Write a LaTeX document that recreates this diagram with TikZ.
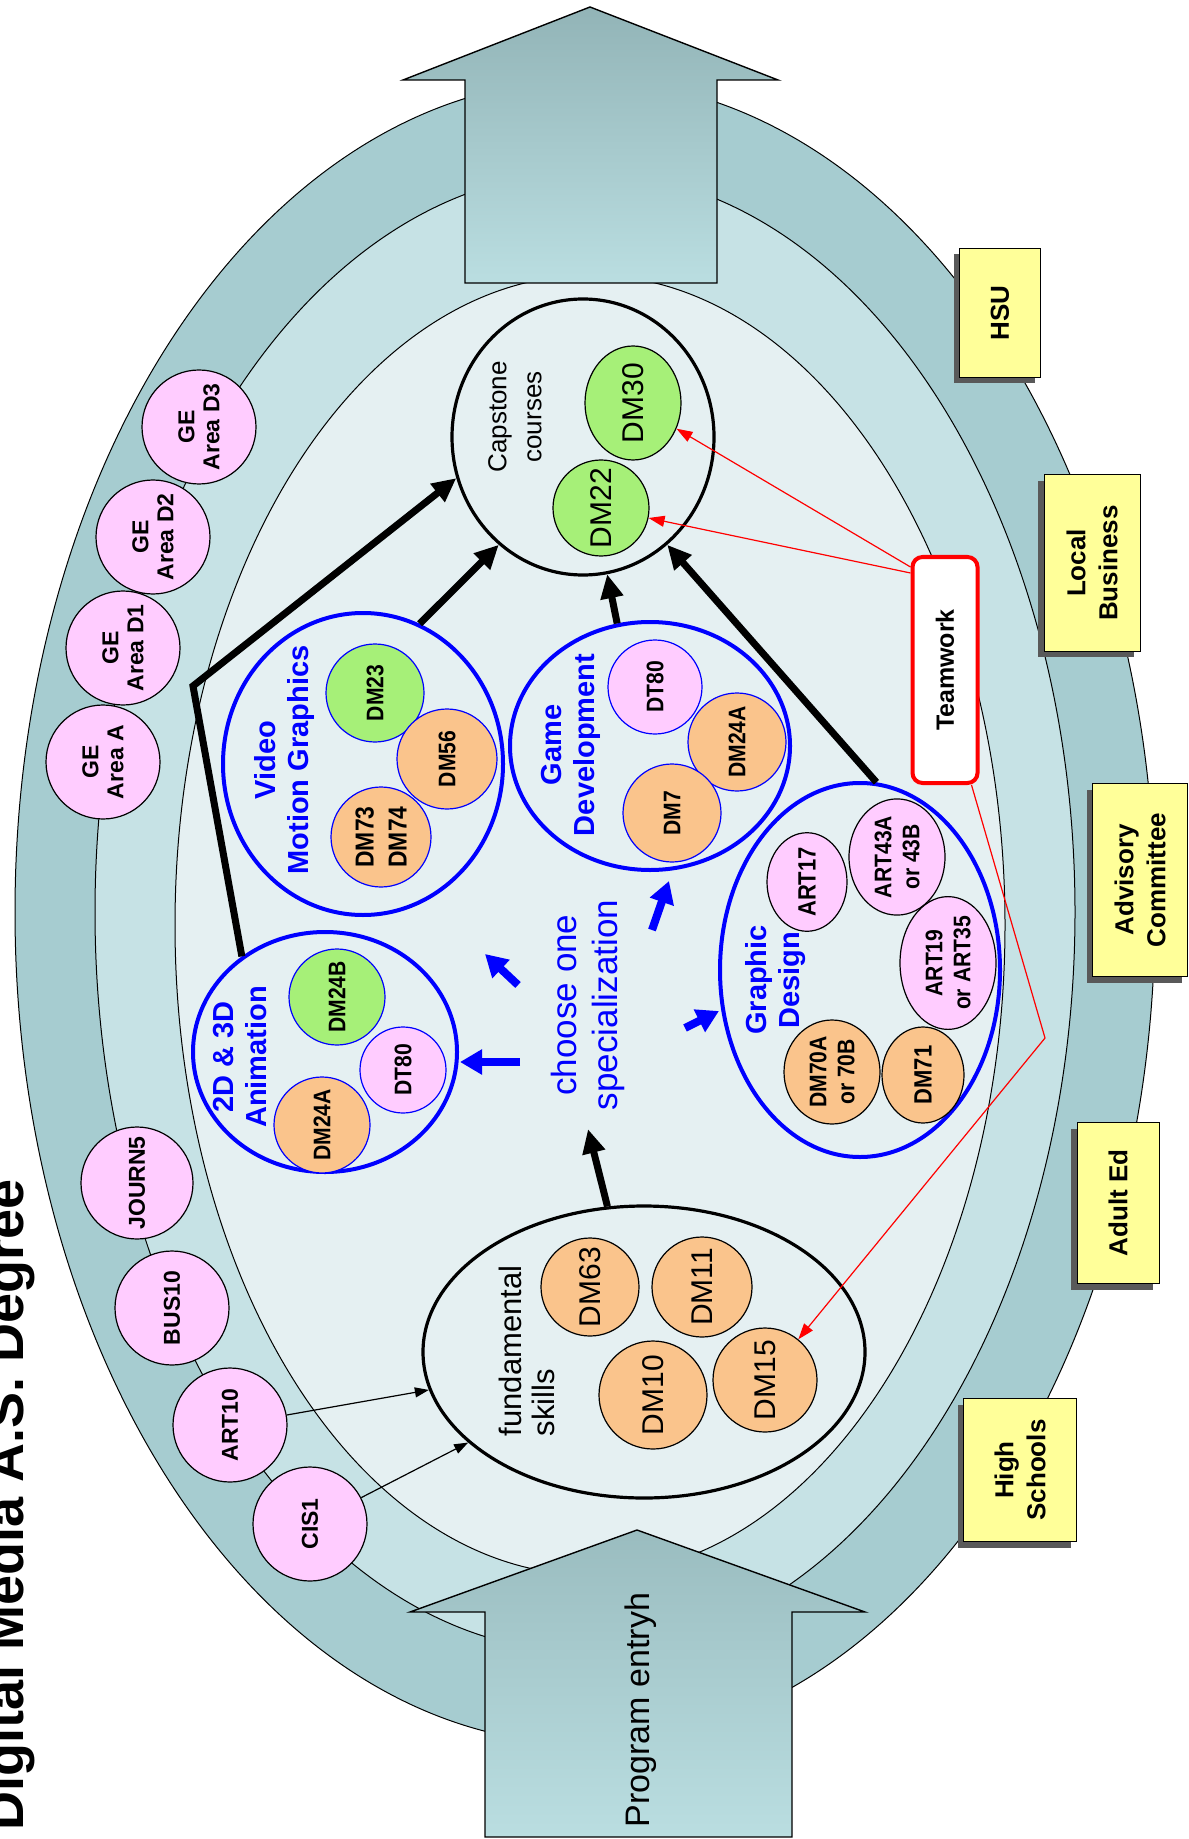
\documentclass[tikz,border=0pt]{standalone}
\usepackage{fontspec}
\setmainfont{Liberation Sans}
\newfontfamily\narrowfont[FakeStretch=0.88]{Liberation Sans}
\usetikzlibrary{shapes,arrows.meta,positioning,calc,shadows}

\definecolor{ringout}{RGB}{166,204,208}
\definecolor{ringmid}{RGB}{198,226,229}
\definecolor{ringin}{RGB}{229,240,242}
\definecolor{arrowtop}{RGB}{146,180,183}
\definecolor{arrowbot}{RGB}{186,222,225}
\definecolor{peach}{RGB}{250,196,140}
\definecolor{lime}{RGB}{166,240,120}
\definecolor{pinkc}{RGB}{255,204,255}
\definecolor{boxyellow}{RGB}{255,255,153}

\begin{document}
\begin{tikzpicture}[x=0.5pt, y=-0.5pt,
    ring/.style={draw=black, line width=0.5pt},
    grp/.style={ellipse, draw=blue, line width=2pt, inner sep=0pt},
    grplabel/.style={rotate=90, align=center, text=blue, font=\bfseries\fontsize{14.5}{16.5}\selectfont},
    course/.style={circle, draw=black, line width=0.6pt, inner sep=0pt, rotate=90, align=center},
    fundc/.style={course, fill=peach, font=\fontsize{15}{17}\selectfont},
    specc/.style={course, draw=blue, font=\narrowfont\bfseries\fontsize{12}{14}\selectfont},
    gdc/.style={course, ellipse, font=\narrowfont\bfseries\fontsize{12}{14}\selectfont},
    gec/.style={course, fill=pinkc, minimum size=57pt, font=\bfseries\fontsize{11.5}{12.5}\selectfont},
    sidebox/.style={rectangle, draw=black, line width=0.5pt, fill=boxyellow, rotate=90, align=center,
        font=\bfseries\fontsize{13}{16}\selectfont,
        drop shadow={shadow xshift=-3pt, shadow yshift=-3pt, fill=black!65, opacity=1}},
    teambox/.style={rectangle, rounded corners=5pt, draw=red, line width=2pt, fill=white, rotate=90,
        minimum width=113pt, minimum height=32.5pt, font=\bfseries\fontsize{12.5}{14}\selectfont},
    arrow/.style={-{Triangle[length=12pt,width=11pt]}, line width=3.5pt},
    bluearrow/.style={-{Triangle[length=11pt,width=12pt]}, line width=4pt, blue},
    thinarrow/.style={-{Triangle[length=7pt,width=5pt]}, line width=0.6pt},
    redarrow/.style={-{Triangle[length=8pt,width=5.5pt]}, line width=0.6pt, red}
]
\useasboundingbox (0,0) rectangle (1188,1839);

% Rings
\draw[ring, fill=ringout] (585,912) ellipse [x radius=570, y radius=832];
\draw[ring, fill=ringmid] (585,912) ellipse [x radius=490, y radius=740];
\draw[ring, fill=ringin] (590,925) ellipse [x radius=415, y radius=650];

% Big arrows
\shade[top color=arrowtop, bottom color=arrowbot, draw=black, line width=0.7pt]
  (590,7) -- (778,80) -- (717,80) -- (717,283) -- (465,283) -- (465,80) -- (403,80) -- cycle;
\shade[top color=arrowtop!80!arrowbot, bottom color=arrowbot, draw=black, line width=0.7pt]
  (637,1530) -- (865,1612) -- (792,1612) -- (792,1837) -- (485,1837) -- (485,1612) -- (410,1612) -- cycle;
\node[rotate=90, font=\fontsize{17}{20}\selectfont] (entry) at (641,1710) {Program entryh};

% Title
\node[rotate=90, anchor=base, font=\bfseries\fontsize{27}{30}\selectfont] (title) at (24,1505) {Digital Media A.S. Degree};

% Capstone
\node[ellipse, draw=black, line width=1.6pt, minimum width=131pt, minimum height=138pt] (cap) at (583,437) {};
\node[rotate=90, align=center, font=\fontsize{13}{17.5}\selectfont] (caplabel) at (515,417) {Capstone\\courses};
\node[course, ellipse, fill=lime, minimum width=57pt, minimum height=48pt, font=\fontsize{15}{17}\selectfont] (dm30) at (633,403) {DM30};
\node[course, fill=lime, minimum size=48pt, font=\fontsize{15}{17}\selectfont] (dm22) at (601,508) {DM22};

% Video Motion Graphics
\node[grp, minimum width=140pt, minimum height=151pt] (vmg) at (363,764) {};
\node[grplabel] (vmglabel) at (284,760) {Video\\Motion Graphics};
\node[specc, fill=lime, minimum size=49pt] (vdm23) at (375,693) {DM23};
\node[specc, fill=peach, minimum size=50pt] (vdm56) at (447,759) {DM56};
\node[specc, fill=peach, minimum size=50pt, font=\narrowfont\bfseries\fontsize{13}{16.5}\selectfont] (vdm73) at (381,837) {DM73\\DM74};

% Game Development
\node[grp, minimum width=140pt, minimum height=124pt] (game) at (650,746) {};
\node[grplabel] (gamelabel) at (571,745) {Game\\Development};
\node[specc, fill=pinkc, minimum size=47pt] (gdt80) at (655,687) {DT80};
\node[specc, fill=peach, minimum size=49pt] (gdm24a) at (737,742) {DM24A};
\node[specc, fill=peach, minimum size=49pt] (gdm7) at (672,813) {DM7};

% 2D & 3D Animation
\node[grp, minimum width=132pt, minimum height=120pt] (anim) at (325,1052) {};
\node[grplabel] (animlabel) at (240,1057) {2D \& 3D\\Animation};
\node[specc, fill=lime, minimum size=48pt] (adm24b) at (337,997) {DM24B};
\node[specc, fill=pinkc, minimum size=43pt] (adt80) at (403,1070) {DT80};
\node[specc, fill=peach, minimum size=48pt] (adm24a) at (322,1125) {DM24A};

% Graphic Design
\node[grp, minimum width=140pt, minimum height=187pt] (gd) at (860,970) {};
\node[grplabel] (gdlabel) at (776,980) {Graphic\\Design};
\node[gdc, fill=pinkc, minimum width=48pt, minimum height=40pt, font=\narrowfont\bfseries\fontsize{12.5}{14}\selectfont] (art17) at (807,882) {ART17};
\node[gdc, fill=pinkc, minimum width=57pt, minimum height=48pt] (art43) at (897,857) {ART43A\\or 43B};
\node[gdc, fill=pinkc, minimum width=65pt, minimum height=48pt] (art19) at (948,963) {ART19\\or ART35};
\node[gdc, fill=peach, minimum width=48pt, minimum height=41pt, font=\narrowfont\bfseries\fontsize{12.5}{14}\selectfont] (gdm71) at (923,1075) {DM71};
\node[gdc, fill=peach, minimum width=52pt, minimum height=48pt] (gdm70) at (832,1072) {DM70A\\or 70B};

% Choose one specialization
\node[rotate=90, align=center, text=blue, font=\fontsize{17.5}{20.5}\selectfont] (choose) at (588,1005) {choose one\\specialization};
\coordinate (c1a) at (520,1062); \coordinate (c1b) at (460,1062);
\coordinate (c2a) at (518,985);  \coordinate (c2b) at (485,954);
\coordinate (c3a) at (652,930);  \coordinate (c3b) at (669,881);
\coordinate (c4a) at (685,1028); \coordinate (c4b) at (719,1011);
\draw[bluearrow] (c1a) -- (c1b);
\draw[bluearrow] (c2a) -- (c2b);
\draw[bluearrow] (c3a) -- (c3b);
\draw[bluearrow] (c4a) -- (c4b);

% Fundamental skills
\node[ellipse, draw=black, line width=1.6pt, minimum width=221pt, minimum height=146pt] (fund) at (644,1352) {};
\node[rotate=90, align=left, font=\fontsize{15.5}{16.7}\selectfont] (fundlabel) at (527,1351) {fundamental\\skills};
\node[fundc, minimum size=49pt] (fdm63) at (590,1287) {DM63};
\node[fundc, minimum size=50pt] (fdm11) at (702,1287) {DM11};
\node[fundc, minimum size=54pt] (fdm10) at (653,1395) {DM10};
\node[fundc, minimum size=52pt] (fdm15) at (765,1380) {DM15};

% Outer ring courses
\node[gec] (gea) at (103,762) {GE\\Area A};
\node[gec] (ged1) at (123,648) {GE\\Area D1};
\node[gec] (ged2) at (153,537) {GE\\Area D2};
\node[gec] (ged3) at (199,427) {GE\\Area D3};
\node[gec, minimum size=56pt] (journ) at (137,1183) {JOURN5};
\node[gec] (bus) at (172,1308) {BUS10};
\node[gec] (art10) at (230,1425) {ART10};
\node[gec] (cis) at (310,1524) {CIS1};

% Partners
\node[sidebox, minimum width=64.5pt, minimum height=40.5pt] (hsu) at (1000,313) {HSU};
\node[sidebox, minimum width=88pt, minimum height=48pt] (biz) at (1092,563) {Local\\Business};
\node[sidebox, minimum width=96.5pt, minimum height=47.5pt] (adv) at (1140,880) {Advisory\\Committee};
\node[sidebox, minimum width=80.5pt, minimum height=41pt] (adult) at (1118,1203) {Adult Ed};
\node[sidebox, minimum width=71.5pt, minimum height=56.5pt] (high) at (1020,1470) {High\\Schools};

% Teamwork
\node[teambox] (team) at (945,670) {Teamwork};

% Arrows
\coordinate (kink) at (193,686);
\coordinate (tcorner) at (1045,1038);
\draw[arrow] (fund) -- ([yshift=-6pt]choose.west);
\draw[arrow] (anim.131) -- (kink) -- (cap.198);
\draw[arrow] (vmg.68) -- (cap.232);
\draw[arrow] (game.105) -- (cap.280);
\draw[arrow] (gd.85) -- (cap.308);
\draw[thinarrow] (art10) -- (fund);
\draw[thinarrow] (cis) -- (fund);
\draw[redarrow] ([yshift=-6pt]team.north east) -- (dm30);
\draw[redarrow] ([yshift=-9pt]team.north east) -- (dm22);
\draw[redarrow] ([xshift=-4pt]team.south west) -- (tcorner) -- (fdm15);

\end{tikzpicture}
\end{document}
